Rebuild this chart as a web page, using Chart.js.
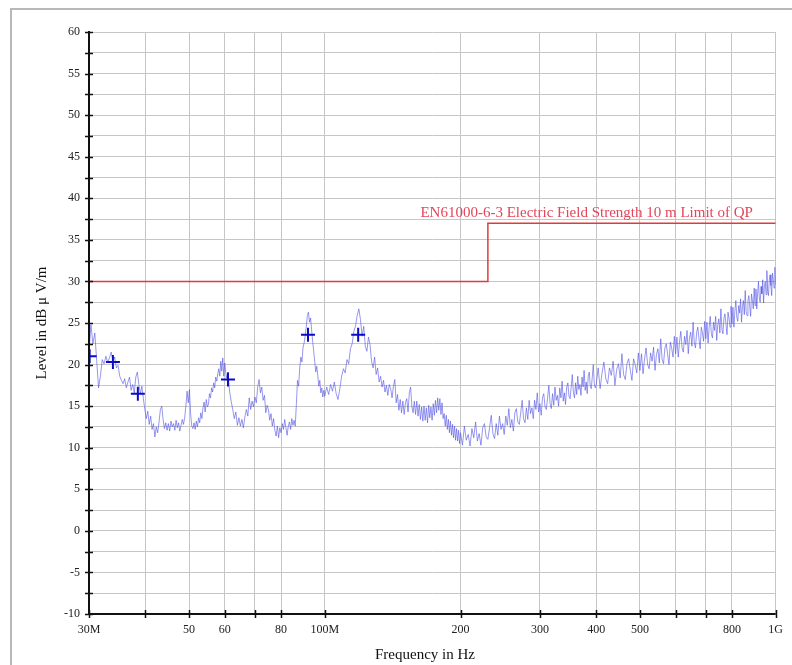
<!DOCTYPE html>
<html>
<head>
<meta charset="utf-8">
<title>Radiated Emission 30M-1G</title>
<script src="https://cdn.jsdelivr.net/npm/chart.js@4.4.1/dist/chart.umd.min.js"></script>
<style>
  html, body { margin: 0; padding: 0; background: #fff; overflow: hidden; }
  #frame { position: absolute; left: 10px; top: 8px; width: 790px; height: 670px; border-left: 2px solid #b8b8b8; border-top: 2px solid #b8b8b8; }
  #wrap { position: absolute; left: 0; top: 0; width: 792px; height: 665px; }
</style>
</head>
<body>
<div id="frame"></div>
<div id="wrap"><canvas id="emi" width="792" height="665"></canvas></div>
<script>
// measured sweep, frequency in MHz / level in dBuV/m
const freqMHz = [
  30.0,30.3,30.6,30.9,31.2,31.5,31.8,32.1,32.4,32.7,33.0,33.3,33.6,33.9,34.2,34.5,34.8,35.1,35.4,35.7,
  36.0,36.3,36.6,36.9,37.2,37.5,37.8,38.1,38.4,38.7,39.0,39.3,39.6,39.9,
  40.2,40.5,40.8,41.1,41.4,41.7,42.0,42.3,42.6,42.9,43.2,43.5,43.8,44.1,44.4,44.7,45.0,45.3,45.6,45.9,
  46.2,46.5,46.8,47.1,47.4,47.7,48.0,48.3,48.6,48.9,49.2,49.5,49.8,50.1,50.4,50.7,51.0,51.3,51.6,51.9,
  52.2,52.5,52.8,53.1,53.4,53.7,54.0,54.3,54.6,54.9,55.2,55.5,55.8,56.1,56.4,56.7,57.0,57.3,57.6,57.9,
  58.2,58.5,58.8,59.1,59.4,59.7,
  60.0,60.5,61.0,61.5,62.0,62.5,63.0,63.5,64.0,64.5,65.0,65.5,66.0,66.5,67.0,67.5,68.0,68.5,69.0,69.5,
  70.0,70.5,71.0,71.5,72.0,72.5,73.0,73.5,74.0,74.5,75.0,75.5,76.0,76.5,77.0,77.5,78.0,78.5,79.0,79.5,
  80.0,80.5,81.0,81.5,82.0,82.5,83.0,83.5,84.0,84.5,85.0,85.5,86.0,86.5,87.0,87.5,88.0,88.5,89.0,89.5,
  90.0,90.5,91.0,91.5,92.0,92.5,93.0,93.5,94.0,94.5,95.0,95.5,96.0,96.5,97.0,97.5,98.0,98.5,99.0,99.5,
  100,101,102,103,104,105,106,107,108,109,110,111,112,113,114,115,116,117,118,119,
  120,121,122,123,124,125,126,127,128,129,130,131,132,133,134,135,136,137,138,139,
  140,141,142,143,144,145,146,147,148,149,150,151,152,153,154,155,156,157,158,159,
  160,161,162,163,164,165,166,167,168,169,170,171,172,173,174,175,176,177,178,179,
  180,181,182,183,184,185,186,187,188,189,190,191,192,193,194,195,196,197,198,199,
  200,202,204,206,208,210,212,214,216,218,220,222,224,226,228,230,232,234,236,238,
  240,242,244,246,248,250,252,254,256,258,260,262,264,266,268,270,272,274,276,278,
  280,282,284,286,288,290,292,294,296,298,300,302,304,306,308,310,312,314,316,318,
  320,322,324,326,328,330,332,334,336,338,340,342,344,346,348,350,352,354,356,358,
  360,362,364,366,368,370,372,374,376,378,380,382,384,386,388,390,392,394,396,398,
  400,404,408,412,416,420,424,428,432,436,440,444,448,452,456,460,464,468,472,476,
  480,484,488,492,496,500,504,508,512,516,520,524,528,532,536,540,544,548,552,556,
  560,564,568,572,576,580,584,588,592,596,600,604,608,612,616,620,624,628,632,636,
  640,644,648,652,656,660,664,668,672,676,680,684,688,692,696,700,704,708,712,716,
  720,724,728,732,736,740,744,748,752,756,760,764,768,772,776,780,784,788,792,796,
  800,804,808,812,816,820,824,828,832,836,840,844,848,852,856,860,864,868,872,876,
  880,884,888,892,896,900,904,908,912,916,920,924,928,932,936,940,944,948,952,956,
  960,964,968,972,976,980,984,988,992,996,1000
];
const levelDb = [
  21.5,24.8,22.5,23.8,20.5,17.2,18.6,20.6,20.1,21.0,20.3,20.8,21.5,20.4,20.9,19.6,19.9,18.6,18.1,17.7,
  18.3,17.2,17.9,18.5,16.9,17.6,16.6,18.5,19.1,17.6,16.5,17.4,15.9,14.6,
  13.5,14.4,12.8,13.8,12.2,12.9,11.3,12.5,11.8,13.1,14.6,15.0,13.4,12.3,13.0,12.1,12.9,12.0,13.2,12.5,
  12.9,12.1,13.3,12.4,13.0,12.0,12.7,13.4,12.8,13.6,15.0,16.8,15.4,17.0,14.1,12.6,12.3,13.0,12.2,13.2,
  12.5,13.6,13.0,14.2,13.5,14.8,15.5,14.3,15.8,14.9,15.2,16.5,16.0,17.2,16.7,17.8,17.2,18.5,18.0,18.9,
  19.5,18.6,20.4,19.2,20.8,18.6,
  20.2,18.4,19.1,16.8,15.6,14.6,13.5,14.3,12.7,13.6,12.6,13.4,12.4,13.7,14.6,13.8,16.0,14.6,15.6,14.9,
  16.1,15.4,17.3,18.2,16.6,17.3,15.7,16.3,14.2,15.1,14.6,13.3,14.1,12.6,13.5,12.1,11.4,12.6,11.2,12.4,
  11.8,12.9,12.2,13.4,12.4,11.5,12.6,13.1,12.2,13.5,12.7,13.3,12.6,15.2,18.1,17.4,19.6,20.9,20.3,22.1,
  22.6,23.5,24.6,25.9,26.3,25.1,25.6,24.2,22.8,21.6,20.4,19.1,19.8,18.7,17.4,18.1,16.6,17.2,16.1,16.9,
  16.2,17.3,16.4,17.6,16.8,17.9,16.5,15.8,17.1,18.6,19.5,19.0,20.6,20.1,21.9,22.5,24.0,24.6,25.9,26.7,
  25.4,23.4,24.6,22.2,21.6,23.3,22.4,20.4,19.6,20.9,18.8,19.6,17.9,18.6,17.3,18.1,16.7,17.5,16.3,17.6,
  17.1,16.0,17.4,18.2,15.4,16.4,14.5,15.8,14.2,15.6,14.0,15.4,15.9,14.3,16.6,17.3,15.0,14.2,15.6,14.0,
  15.6,13.8,15.2,13.4,14.9,13.2,15.0,13.3,14.8,13.0,15.1,13.6,14.9,13.3,15.3,13.9,15.7,14.2,16.0,14.5,
  15.9,14.0,15.4,13.5,14.1,12.6,13.9,12.2,13.4,11.8,13.2,11.5,12.8,11.2,12.6,10.9,12.3,10.8,12.1,10.5,
  11.8,10.3,12.6,10.9,11.6,10.2,12.3,11.2,13.1,10.8,11.7,10.3,12.4,12.9,11.3,11.0,12.4,13.9,11.7,11.1,
  12.9,11.5,13.8,12.2,12.9,11.6,13.8,12.7,14.7,12.4,13.4,12.0,14.2,14.7,13.1,12.8,14.2,15.7,13.5,13.0,
  14.8,13.4,15.7,14.1,14.8,13.5,15.7,14.6,16.6,14.3,15.3,13.9,16.0,16.5,14.9,14.6,16.0,17.5,15.3,14.7,
  16.5,15.1,17.3,15.7,16.3,15.0,17.2,16.0,18.0,15.6,16.6,15.2,17.3,17.8,16.2,15.9,17.3,18.8,16.6,16.0,
  17.8,16.4,18.6,17.0,17.6,16.3,18.5,17.3,19.3,16.9,17.9,16.5,18.6,19.1,17.4,17.1,18.5,20.0,17.7,17.2,
  17.6,19.6,17.1,19.0,20.3,18.3,17.7,19.6,18.7,20.4,17.5,19.4,20.1,18.4,21.3,18.8,18.2,20.1,20.7,19.3,
  18.1,20.7,20.0,19.0,21.4,19.3,21.3,18.9,20.7,22.0,20.0,19.5,21.4,20.4,22.1,19.3,21.2,21.9,20.2,23.1,
  20.6,20.1,22.0,22.5,21.2,20.0,22.7,22.0,20.9,23.4,21.3,23.3,20.9,22.7,24.0,22.0,21.5,23.4,22.4,24.1,
  21.3,23.2,23.9,22.2,25.1,22.6,22.0,23.9,24.5,23.1,21.9,24.5,23.8,22.8,25.2,23.1,25.1,22.6,24.5,25.8,
  23.7,23.2,25.1,24.1,25.8,22.9,24.8,25.5,23.8,26.7,24.2,23.7,25.6,26.1,24.8,23.6,26.3,25.6,24.5,27.0,
  24.9,26.9,24.5,26.4,27.7,25.7,25.2,27.1,26.2,27.9,25.1,27.0,27.7,26.0,28.9,26.4,25.9,27.7,28.3,27.0,
  25.8,28.5,27.7,26.7,29.2,27.1,29.1,26.7,28.6,30.0,28.0,27.5,29.4,28.5,30.2,27.4,29.3,30.0,28.4,31.3,
  28.8,28.3,30.2,30.8,29.5,28.3,31.0,30.2,29.2,31.7,29.6
];

// peak markers
const markerFreq = [30.1, 33.9, 38.5, 61.0, 91.8, 118.6];
const markerLevel = [21.0, 20.3, 16.5, 18.2, 23.6, 23.6];

// EN61000-6-3 QP limit, 10 m
const limitFreq = [30, 230, 230, 1000];
const limitLevel = [30, 30, 37, 37];
const limitName = 'EN61000-6-3 Electric Field Strength 10 m Limit of QP';

const xTickValues = [30, 40, 50, 60, 70, 80, 100, 200, 300, 400, 500, 600, 700, 800, 1000];
const xTickLabels = ['30M', '', '50', '60', '', '80', '100M', '200', '300', '400', '500', '', '', '800', '1G'];

const serif = '"Liberation Serif", "Times New Roman", serif';

const trace = freqMHz.map((f, i) => ({ x: f, y: levelDb[i] }));
const markers = markerFreq.map((f, i) => ({ x: f, y: markerLevel[i] }));
const limit = limitFreq.map((f, i) => ({ x: f, y: limitLevel[i] }));

// axis lines, crossing tick marks, limit caption and axis titles
const decor = {
  id: 'decor',
  afterDraw(chart) {
    const { ctx, chartArea: a, scales: { x, y } } = chart;
    ctx.save();
    ctx.strokeStyle = '#111';
    ctx.lineWidth = 2;
    ctx.beginPath();
    ctx.moveTo(a.left, a.top - 1);
    ctx.lineTo(a.left, a.bottom);
    ctx.lineTo(a.right, a.bottom);
    ctx.stroke();

    ctx.lineWidth = 1.5;
    ctx.beginPath();
    y.ticks.forEach(t => {
      const py = Math.round(y.getPixelForValue(t.value)) + 0.5;
      ctx.moveTo(a.left - 4, py);
      ctx.lineTo(a.left + 4, py);
    });
    x.ticks.forEach(t => {
      const px = Math.round(x.getPixelForValue(t.value)) + 0.5;
      ctx.moveTo(px, a.bottom - 4);
      ctx.lineTo(px, a.bottom + 4);
    });
    ctx.stroke();

    ctx.font = '15px ' + serif;
    ctx.fillStyle = '#e2465a';
    ctx.textAlign = 'left';
    ctx.textBaseline = 'alphabetic';
    ctx.fillText(limitName, x.getPixelForValue(163), y.getPixelForValue(37) - 6);

    ctx.fillStyle = '#111';
    ctx.textAlign = 'center';
    ctx.textBaseline = 'middle';
    ctx.fillText('Frequency in Hz', 425, 655);
    ctx.translate(42, (a.top + a.bottom) / 2);
    ctx.rotate(-Math.PI / 2);
    ctx.fillText('Level in dB \u03bc V/m', 0, 0);
    ctx.restore();
  }
};

new Chart(document.getElementById('emi'), {
  type: 'line',
  data: {
    datasets: [
      {
        label: 'Peaks',
        data: markers,
        showLine: false,
        pointStyle: 'cross',
        pointRadius: 7,
        pointBorderWidth: 2,
        pointBorderColor: '#0b0bc4',
        borderColor: '#0b0bc4'
      },
      {
        label: 'Limit',
        data: limit,
        borderColor: '#e03a3a',
        borderWidth: 1.5,
        pointRadius: 0,
        tension: 0
      },
      {
        label: 'Level',
        data: trace,
        borderColor: 'rgba(80, 80, 228, 0.75)',
        borderWidth: 0.8,
        pointRadius: 0,
        tension: 0
      }
    ]
  },
  options: {
    responsive: false,
    animation: false,
    layout: { padding: { top: 32, right: 16, left: 0, bottom: 0 } },
    plugins: { legend: { display: false }, tooltip: { enabled: false } },
    scales: {
      x: {
        type: 'logarithmic',
        min: 30,
        max: 1000,
        afterBuildTicks: scale => { scale.ticks = xTickValues.map(v => ({ value: v })); },
        afterFit: scale => { scale.height = 51; },
        grid: { color: '#c6c6c6', lineWidth: 1, drawTicks: false },
        border: { display: false },
        ticks: {
          autoSkip: false,
          maxRotation: 0,
          padding: 9,
          color: '#222',
          font: { family: serif, size: 12 },
          callback: (v, i) => xTickLabels[i]
        }
      },
      y: {
        min: -10,
        max: 60,
        afterFit: scale => { scale.width = 89; },
        grid: { color: '#c6c6c6', lineWidth: 1, drawTicks: false },
        border: { display: false },
        ticks: {
          stepSize: 2.5,
          autoSkip: false,
          padding: 9,
          color: '#222',
          font: { family: serif, size: 12 },
          callback: v => (v % 5 === 0 ? v : '')
        }
      }
    }
  },
  plugins: [decor]
});
</script>
</body>
</html>
